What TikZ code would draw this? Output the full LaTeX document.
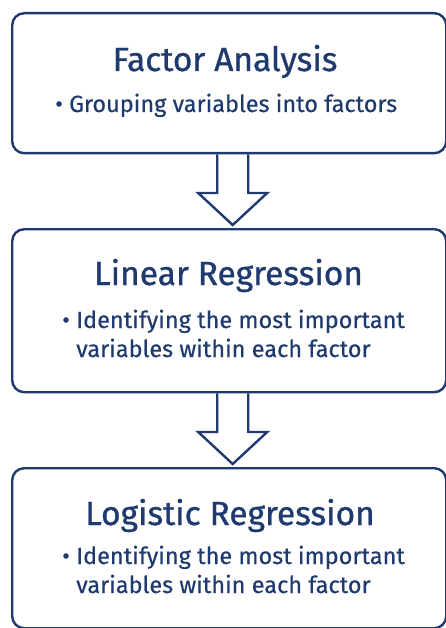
\documentclass[tikz,border=0pt]{standalone}
\usepackage{fontspec}
\setmainfont{Fira Sans}
\newfontfamily\stagetitlefont{Fira Sans}[FakeBold=0.9]
\newfontfamily\stagebodyfont{Fira Sans}[FakeBold=0.4]
\usetikzlibrary{positioning,calc}
\definecolor{navy}{RGB}{31,58,110}

\tikzset{
  stage/.style={draw=navy, line width=2.4pt, rounded corners=12pt, anchor=north west, inner sep=0pt, minimum width=434pt},
  stagetitle/.style={text=navy, font=\stagetitlefont\fontsize{33.5}{36}\selectfont, anchor=base, inner sep=0pt},
  stagebody/.style={text=navy, font=\stagebodyfont\fontsize{23.5}{29}\selectfont, anchor=base west, inner sep=0pt, align=left},
  hollow/.style={draw=navy, line width=2.4pt, line join=miter}
}

\begin{document}
\begin{tikzpicture}[x=1pt,y=-1pt]
\useasboundingbox (0,0) rectangle (446,628);
% stages
\node[stage, minimum height=140pt] (fa) at (11,12) {};
\node[stage, minimum height=163pt] (lin) at (11,228) {};
\node[stage, minimum height=160pt] (log) at (11,467) {};
% texts
\node[stagetitle] (fa-title) at (225,71) {Factor Analysis};
\node[stagebody] (fa-body) at (55,112) {\makebox[14pt][l]{•}Grouping variables into factors};
\node[stagetitle] (lin-title) at (228.5,285) {Linear Regression};
\node[stagebody] (lin-body) at (62,357) {\makebox[14pt][l]{•}Identifying the most important\\\hspace*{14pt}variables within each factor};
\node[stagetitle] (log-title) at (230,525) {Logistic Regression};
\node[stagebody] (log-body) at (62,593) {\makebox[14pt][l]{•}Identifying the most important\\\hspace*{14pt}variables within each factor};
% hollow arrows
\foreach \a/\b in {fa/lin,lin/log}{
  \path ($(\a.south)+(3.5,0)$) coordinate (\a-top) ($(\b.north)+(3.5,-3)$) coordinate (\a-tip);
  \draw[hollow] ($(\a-top)+(-15.5,0)$) -- ($(\a-tip)+(-15.5,-32)$) -- ($(\a-tip)+(-34.5,-32)$) -- (\a-tip)
    -- ($(\a-tip)+(34.5,-32)$) -- ($(\a-tip)+(15.5,-32)$) -- ($(\a-top)+(15.5,0)$);
}
\end{tikzpicture}
\end{document}
